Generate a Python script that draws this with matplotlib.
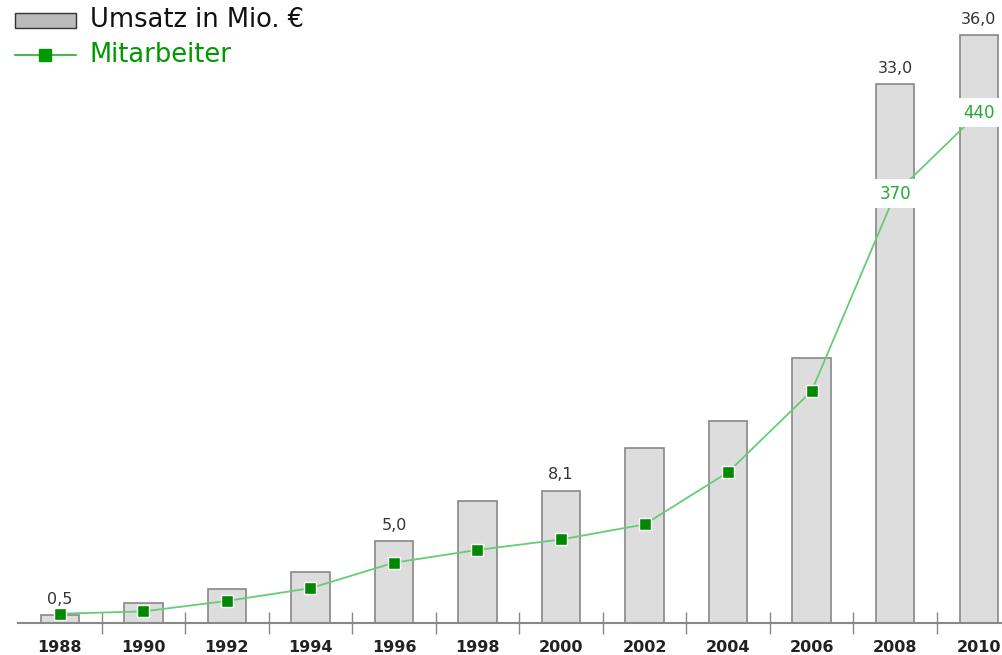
import matplotlib
matplotlib.use("Agg")
import matplotlib.pyplot as plt
from matplotlib.patches import Rectangle
from matplotlib.lines import Line2D

# Daten
jahre = ["1988", "1990", "1992", "1994", "1996", "1998",
         "2000", "2002", "2004", "2006", "2008", "2010"]
umsatz = [0.5, 1.2, 2.1, 3.1, 5.0, 7.5, 8.1, 10.7, 12.4, 16.2, 33.0, 36.0]
mitarbeiter = [8, 10, 19, 30, 52, 63, 72, 85, 130, 200, 370, 440]
umsatz_labels = {0: "0,5", 4: "5,0", 6: "8,1", 10: "33,0", 11: "36,0"}
ma_labels = {10: "370", 11: "440"}

W, H = 1003, 655
fig = plt.figure(figsize=(W / 100, H / 100), dpi=100)
ax = fig.add_axes([18 / W, 32 / H, 1 - 18 / W, (623 - 0) / H])
ax2 = ax.twinx()

x = list(range(len(jahre)))
ax.bar(x, umsatz, width=0.46, color="#dddddd", edgecolor="#888888", linewidth=1.2, zorder=2)
ax.set_xlim(-0.5, 11.29)
ax.set_ylim(0, 623 / 16.33)

for i, t in umsatz_labels.items():
    ax.annotate(t, (i, umsatz[i]), xytext=(0, 6), textcoords="offset points",
                ha="center", va="bottom", fontsize=11.5, color="#333333")

# Mitarbeiter-Linie
ax2.set_ylim(0, 623 / 1.16)
ax2.plot(x, mitarbeiter, color="#66cc77", linewidth=1.3, zorder=3)
ax2.plot(x, mitarbeiter, linestyle="none", marker="s", markersize=8,
         markerfacecolor="#008800", markeredgecolor="white", markeredgewidth=1, zorder=4)
for i, t in ma_labels.items():
    ax2.text(i, mitarbeiter[i], t, ha="center", va="center", fontsize=12,
             color="#22aa33", zorder=5,
             bbox=dict(facecolor="white", edgecolor="none", pad=4))

# Achsen
for a in (ax, ax2):
    for s in ("top", "right", "left"):
        a.spines[s].set_visible(False)
    a.set_yticks([])
ax2.spines["bottom"].set_visible(False)
ax.spines["bottom"].set_color("#888888")
ax.spines["bottom"].set_linewidth(1.5)
ax.set_xticks(x)
ax.set_xticklabels(jahre, fontsize=11.5, fontweight="bold", color="#222222")
ax.tick_params(axis="x", which="major", length=0, pad=12)
ax.set_xticks([i + 0.5 for i in x[:-1]], minor=True)
ax.tick_params(axis="x", which="minor", direction="inout", length=16, width=1, color="#888888")
ax.set_zorder(1)
ax2.set_zorder(2)
ax.patch.set_visible(False)

# Legende
fig.patches.append(Rectangle((15 / W, 1 - 28 / H), 61 / W, 15 / H, transform=fig.transFigure,
                             facecolor="#bbbbbb", edgecolor="#333333", linewidth=1))
fig.text(90 / W, 1 - 20 / H, "Umsatz in Mio. €", fontsize=18.5, color="#111111", va="center")
fig.lines.append(Line2D([15 / W, 76 / W], [1 - 55 / H, 1 - 55 / H], transform=fig.transFigure,
                        color="#22aa33", linewidth=1.2))
fig.lines.append(Line2D([45.5 / W], [1 - 55 / H], transform=fig.transFigure, marker="s",
                        markersize=9, color="#009900"))
fig.text(90 / W, 1 - 55 / H, "Mitarbeiter", fontsize=18.5, color="#009900", va="center")

fig.savefig("out.png", dpi=100)
